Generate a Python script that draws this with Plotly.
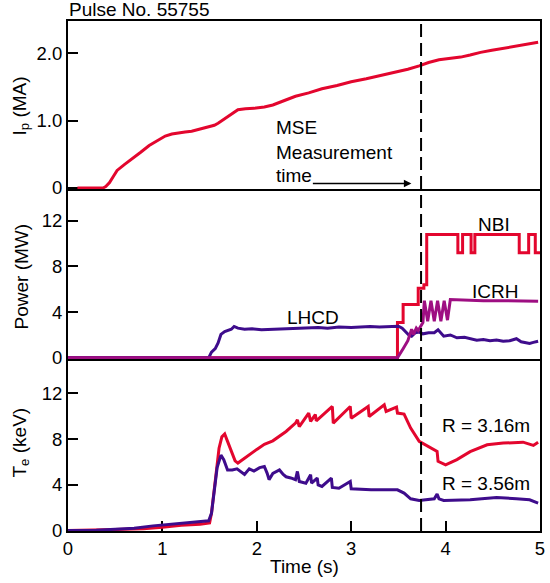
import plotly.graph_objects as go

# ---------------- data ----------------
t_ip = [0.1, 0.37, 0.40, 0.44, 0.48, 0.52, 0.60, 0.68, 0.77, 0.86, 0.95, 1.03, 1.10, 1.17,
        1.24, 1.31, 1.40, 1.49, 1.55, 1.59, 1.65, 1.70, 1.75, 1.80, 1.88, 1.97, 2.08, 2.17,
        2.30, 2.41, 2.55, 2.69, 2.85, 3.0, 3.16, 3.32, 3.46, 3.60, 3.72, 3.82, 3.93, 4.05,
        4.16, 4.26, 4.37, 4.49, 4.61, 4.80, 4.98]
ip = [0, 0, 0.02, 0.08, 0.17, 0.26, 0.35, 0.43, 0.53, 0.63, 0.71, 0.77, 0.80, 0.82,
      0.83, 0.84, 0.87, 0.90, 0.93, 0.96, 1.02, 1.07, 1.12, 1.16, 1.175, 1.18, 1.20, 1.23,
      1.30, 1.36, 1.41, 1.47, 1.52, 1.575, 1.62, 1.67, 1.71, 1.76, 1.81, 1.86, 1.90, 1.92,
      1.94, 1.97, 2.01, 2.04, 2.07, 2.11, 2.16]

t_lhcd = [0, 1.49, 1.52, 1.56, 1.59, 1.62, 1.66, 1.69, 1.73, 1.76, 1.80, 1.87, 1.95, 2.05,
          2.17, 2.3, 2.4, 2.52, 2.65, 2.75, 2.87, 3.0, 3.1, 3.2, 3.3, 3.4, 3.5, 3.54, 3.57,
          3.61, 3.64, 3.68, 3.72, 3.76, 3.82, 3.88, 3.92, 3.98, 4.05, 4.12, 4.2, 4.27, 4.33,
          4.4, 4.47, 4.54, 4.61, 4.68, 4.75, 4.8, 4.85, 4.89, 4.93, 4.98]
p_lhcd = [0, 0, 0.5, 0.8, 1.3, 2.05, 2.3, 2.4, 2.5, 2.75, 2.6, 2.5, 2.55, 2.45,
          2.5, 2.55, 2.6, 2.6, 2.65, 2.6, 2.7, 2.65, 2.7, 2.75, 2.7, 2.75, 2.77, 2.6, 2.3,
          2.0, 1.9, 2.2, 2.25, 2.1, 2.2, 2.2, 2.45, 1.9, 2.0, 1.75, 1.8, 1.65, 1.55,
          1.6, 1.5, 1.55, 1.45, 1.5, 1.67, 1.4, 1.35, 1.26, 1.35, 1.45]

t_nbi = [0, 3.49, 3.55, 3.71, 3.77, 3.80, 4.13, 4.18, 4.27, 4.31, 4.78, 4.88, 4.95, 5.0]
p_nbi = [0, 3.1, 4.67, 6.1, 6.4, 10.8, 9.2, 10.8, 9.2, 10.8, 9.2, 10.8, 9.2, 9.2]

t_icrh = [0, 3.49, 3.55, 3.60, 3.62, 3.64, 3.66, 3.69, 3.71, 3.74, 3.76,
          3.775, 3.81, 3.845, 3.88, 3.915, 3.95, 3.985, 4.02, 4.05, 4.2, 4.4, 4.6, 4.8, 4.98]
p_icrh = [0, 0, 0.8, 1.5, 2.0, 2.5, 2.05, 2.6, 2.4, 2.9, 3.1,
          5.0, 3.2, 5.0, 3.2, 5.0, 3.2, 5.0, 3.3, 5.1, 5.05, 5.0, 5.0, 4.97, 4.95]

t_te1 = [0, 0.2, 0.4, 0.6, 0.8, 1.0, 1.2, 1.4, 1.50, 1.52, 1.56, 1.60, 1.63, 1.66, 1.69,
         1.73, 1.77, 1.80, 1.85, 1.94, 2.0, 2.08, 2.17, 2.31, 2.41, 2.43, 2.45, 2.55, 2.57,
         2.62, 2.63, 2.80, 2.81, 2.99, 3.0, 3.18, 3.19, 3.35, 3.37, 3.48, 3.49, 3.56, 3.63,
         3.72, 3.88, 3.91, 3.92, 4.0, 4.12, 4.26, 4.44, 4.61, 4.82, 4.93, 4.98]
te1 = [0, 0, 0.05, 0.1, 0.15, 0.28, 0.45, 0.55, 0.65, 1.5, 4.5, 7.2, 8.2, 8.45, 7.8,
       6.9, 6.1, 5.9, 6.2, 6.8, 7.1, 7.55, 7.85, 8.67, 9.4, 9.69, 9.1, 10.28, 9.55,
       10.15, 9.6, 10.86, 9.4, 10.86, 9.83, 10.86, 9.98, 11.0, 10.42, 10.8, 10.28, 10.19, 8.97,
       7.8, 7.07, 6.92, 6.05, 5.75, 6.2, 6.9, 7.5, 7.65, 7.73, 7.45, 7.73]

t_te2 = [0, 0.3, 0.5, 0.7, 0.9, 1.03, 1.2, 1.35, 1.49, 1.52, 1.55, 1.58, 1.62, 1.65, 1.69,
         1.74, 1.79, 1.87, 1.92, 1.97, 2.03, 2.08, 2.11, 2.13, 2.17, 2.24, 2.28, 2.31, 2.36,
         2.41, 2.43, 2.45, 2.52, 2.57, 2.58, 2.64, 2.65, 2.69, 2.79, 2.80, 2.87, 2.99, 3.0,
         3.21, 3.49, 3.56, 3.63, 3.72, 3.88, 3.91, 3.93, 3.98, 4.26, 4.54, 4.75, 4.89, 4.98]
te2 = [0, 0.02, 0.1, 0.2, 0.4, 0.5, 0.65, 0.75, 0.85, 1.5, 3.5, 5.5, 6.6, 6.2, 5.3,
       5.3, 5.4, 4.9, 5.4, 5.2, 5.5, 5.6, 5.0, 4.45, 5.0, 5.3, 4.9, 4.7, 4.6,
       4.45, 5.17, 4.29, 4.14, 4.88, 4.14, 4.59, 3.99, 3.85, 4.59, 3.76, 3.7, 4.29, 3.65,
       3.56, 3.56, 3.27, 2.77, 2.63, 2.77, 3.18, 2.77, 2.63, 2.68, 2.89, 2.77, 2.68, 2.39]

yticks_ip = [0, 1, 2]
yticks_ip_text = ["0", "1.0", "2.0"]
yticks_p = [0, 4, 8, 12]
yticks_te = [0, 4, 8, 12]
xticks = [0, 1, 2, 3, 4, 5]
mse_time = 3.74

# ---------------- style ----------------
RED = "#E3062E"
PURPLE = "#3E0C8C"
MAGENTA = "#9E0E82"
FONT = "Liberation Sans, Arial, sans-serif"
FS = 19
TFS = 18.5
LW = 2

fig = go.Figure()
fig.add_trace(go.Scatter(x=t_ip, y=ip, mode="lines", line=dict(color=RED, width=3),
                         xaxis="x", yaxis="y"))
fig.add_trace(go.Scatter(x=t_nbi, y=p_nbi, mode="lines", line=dict(color=RED, width=3, shape="hv"),
                         xaxis="x2", yaxis="y2"))
fig.add_trace(go.Scatter(x=t_lhcd, y=p_lhcd, mode="lines", line=dict(color=PURPLE, width=3),
                         xaxis="x2", yaxis="y2"))
fig.add_trace(go.Scatter(x=t_icrh, y=p_icrh, mode="lines", line=dict(color=MAGENTA, width=3),
                         xaxis="x2", yaxis="y2"))
fig.add_trace(go.Scatter(x=t_te1, y=te1, mode="lines", line=dict(color=RED, width=3),
                         xaxis="x3", yaxis="y3"))
fig.add_trace(go.Scatter(x=t_te2, y=te2, mode="lines", line=dict(color=PURPLE, width=3),
                         xaxis="x3", yaxis="y3"))

common_x = dict(range=[0, 5], showline=True, linecolor="black", linewidth=LW,
                showgrid=False, zeroline=False, layer="below traces")
common_y = dict(showline=True, linecolor="black", linewidth=LW, mirror=True, showgrid=False,
                zeroline=False, ticks="inside", ticklen=10, tickwidth=1.5, tickcolor="black",
                layer="below traces",
                tickfont=dict(family=FONT, size=TFS, color="black"))

d1 = [0.6706, 1.0]
d2 = [0.3373, 0.6706]
d3 = [0.0, 0.3373]

fig.update_layout(
    width=550, height=583,
    margin=dict(l=68, r=5, t=21, b=52),
    paper_bgcolor="white", plot_bgcolor="white",
    showlegend=False,
    font=dict(family=FONT, size=FS, color="black"),
    xaxis=dict(**common_x, anchor="y", mirror=True, ticks="", showticklabels=False),
    xaxis2=dict(**common_x, anchor="y2", mirror=False, ticks="", showticklabels=False),
    xaxis3=dict(**common_x, anchor="y3", mirror=False, ticks="inside", ticklen=10, tickwidth=1.5,
                tickcolor="black", tickvals=xticks,
                tickfont=dict(family=FONT, size=TFS, color="black")),
    yaxis=dict(**common_y, domain=d1, anchor="x", range=[-0.015, 2.475],
               tickvals=yticks_ip, ticktext=yticks_ip_text),
    yaxis2=dict(**common_y, domain=d2, anchor="x2", range=[-0.1, 14.78], tickvals=yticks_p),
    yaxis3=dict(**common_y, domain=d3, anchor="x3", range=[-0.05, 15.02], tickvals=yticks_te),
)

fig.add_shape(type="line", xref="x3", yref="paper", x0=mse_time, x1=mse_time, y0=0, y1=1,
              line=dict(color="black", width=2, dash="13px,6px"))


def px2x(px):
    return (px - 68) / 477.0


def py2y(py):
    return (531 - py) / 510.0


def ann(text, px, py, xanchor="center", yanchor="middle", size=FS, angle=0):
    fig.add_annotation(text=text, xref="paper", yref="paper", x=px2x(px), y=py2y(py),
                       xanchor=xanchor, yanchor=yanchor, showarrow=False, textangle=angle,
                       font=dict(family=FONT, size=size, color="black"))


ann("Pulse No. 55755", 67, 9, xanchor="left")
ann("I<sub>p</sub> (MA)", 20, 106, angle=-90)
ann("Power (MW)", 20, 277, angle=-90)
ann("T<sub>e</sub> (keV)", 20, 443, angle=-90)
ann("Time (s)", 307, 566)
ann("MSE", 276, 127, xanchor="left")
ann("Measurement", 276, 152, xanchor="left")
ann("time", 276, 175, xanchor="left")
ann("NBI", 499, 224)
ann("ICRH", 500, 291)
ann("LHCD", 316, 318)
ann("R = 3.16m", 537, 425, xanchor="right")
ann("R = 3.56m", 537, 483, xanchor="right")

fig.add_annotation(xref="paper", yref="paper", x=px2x(415), y=py2y(183.5),
                   ax=-100, ay=0, axref="pixel", ayref="pixel",
                   showarrow=True, arrowhead=2, arrowsize=1, arrowwidth=1.5,
                   arrowcolor="black", text="")

fig.write_html("out.html", config={"displayModeBar": False},
               post_script="document.body.style.margin='0px';")
